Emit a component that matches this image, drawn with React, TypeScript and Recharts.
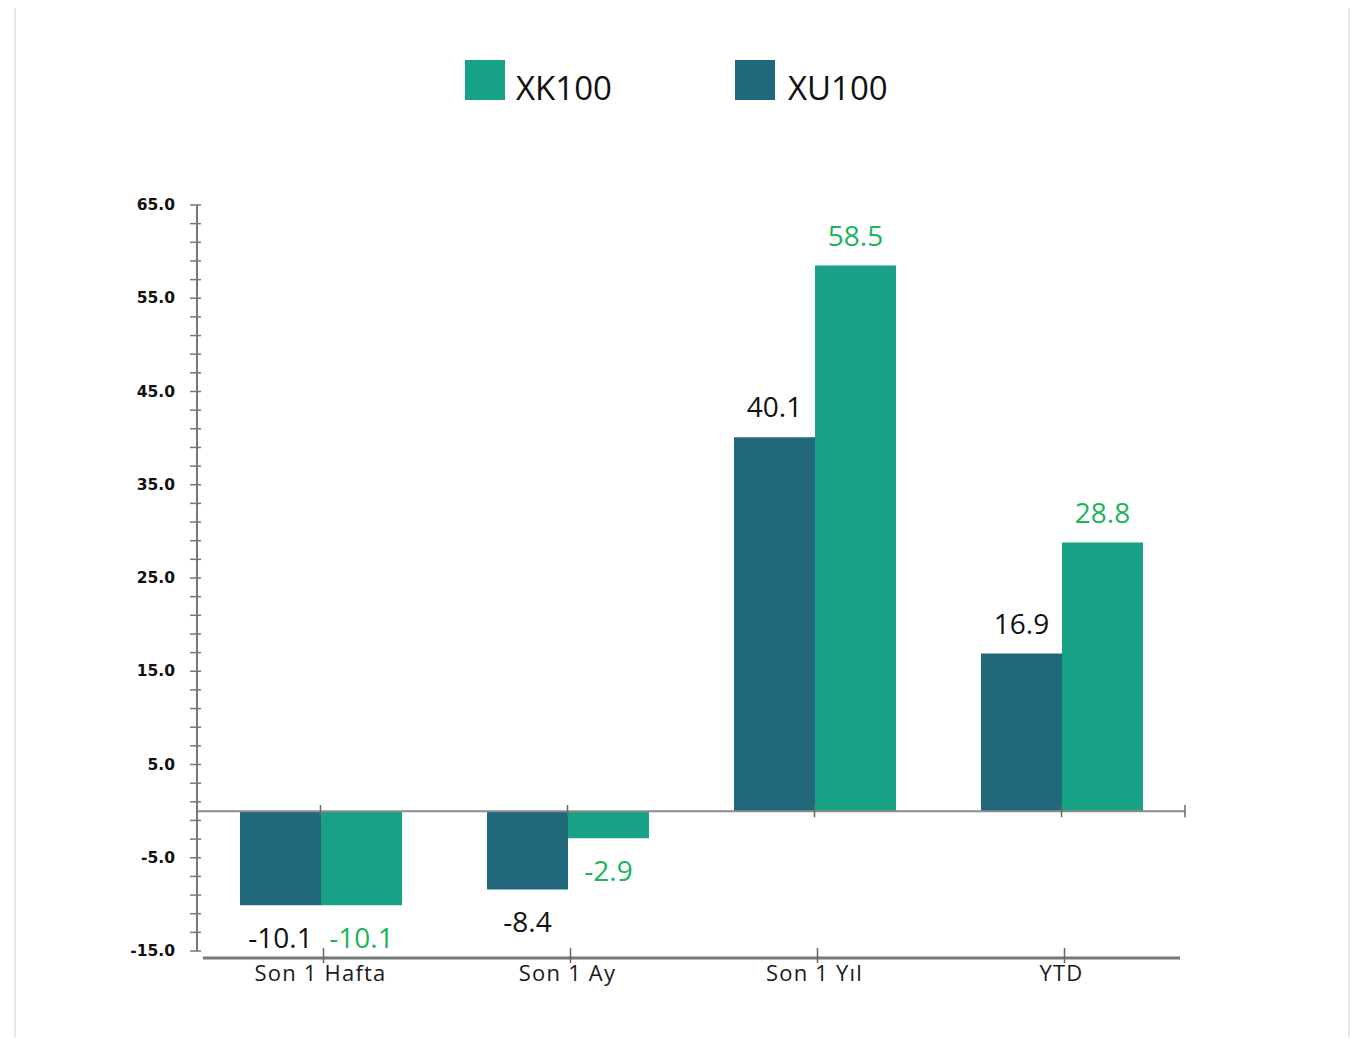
import React from 'react';
import { BarChart, Bar, XAxis, YAxis, ReferenceLine, LabelList } from 'recharts';

const categories = ['Son 1 Hafta', 'Son 1 Ay', 'Son 1 Yıl', 'YTD'];
const xu100Values = [-10.1, -8.4, 40.1, 16.9];
const xk100Values = [-10.1, -2.9, 58.5, 28.8];

// every 2 units a small tick, labels only on the 10-step ones
const yTicks = [
  -15, -13, -11, -9, -7, -5, -3, -1, 1, 3, 5, 7, 9, 11, 13, 15, 17, 19, 21, 23, 25,
  27, 29, 31, 33, 35, 37, 39, 41, 43, 45, 47, 49, 51, 53, 55, 57, 59, 61, 63, 65,
];
const yLabels = [-15, -5, 5, 15, 25, 35, 45, 55, 65];

const data = categories.map((name, i) => ({
  name,
  XU100: xu100Values[i],
  XK100: xk100Values[i],
}));

const XU_COLOR = '#21687D';
const XK_COLOR = '#17A185';
const AXIS_COLOR = '#777';

const YTick = (props: any) => {
  const { x, y, payload } = props;
  const v = payload.value;
  return (
    <g>
      <line x1={x - 7} x2={x + 4} y1={y} y2={y} stroke={AXIS_COLOR} strokeWidth={1.5} />
      {yLabels.includes(v) && (
        <text
          x={x - 22}
          y={y}
          dy={5}
          textAnchor="end"
          fontFamily="DejaVu Sans"
          fontWeight="bold"
          fontSize={15.5}
          fill="#111"
        >
          {v.toFixed(1)}
        </text>
      )}
    </g>
  );
};

const XTick = (props: any) => {
  const { x, y, payload, index } = props;
  const half = 123.5;
  const x1 = index === 0 ? x - half + 6 : x - half;
  const x2 = index === categories.length - 1 ? x + half - 5 : x + half;
  return (
    <g>
      <line x1={x1} x2={x2} y1={y + 7} y2={y + 7} stroke={AXIS_COLOR} strokeWidth={3} />
      <line x1={x + 3} x2={x + 3} y1={y - 3} y2={y + 12} stroke="#666" strokeWidth={1.5} />
      <text
        x={x}
        y={y + 30}
        textAnchor="middle"
        fontFamily="Open Sans"
        fontSize={22}
        letterSpacing={1.2}
        fill="#1a1a1a"
      >
        {payload.value}
      </text>
    </g>
  );
};

const makeLabel = (color: string) => (props: any) => {
  const vb = props.x !== undefined ? props : props.viewBox;
  const { x, y, width, height } = vb;
  const value = Number(props.value);
  const top = Math.min(y, y + height);
  const bottom = Math.max(y, y + height);
  const ty = value >= 0 ? top - 20 : bottom + 43;
  return (
    <text
      x={x + width / 2}
      y={ty}
      textAnchor="middle"
      fontFamily="Open Sans"
      fontSize={28}
      fill={color}
    >
      {value.toFixed(1)}
    </text>
  );
};

const ChartLegend = () => (
  <svg
    width={1371}
    height={140}
    style={{ position: 'absolute', left: 0, top: 0, pointerEvents: 'none' }}
  >
    <rect x={465} y={60} width={40} height={40} fill={XK_COLOR} />
    <text x={516} y={100} fontFamily="Open Sans" fontSize={33} fill="#111">
      XK100
    </text>
    <rect x={735} y={60} width={40} height={40} fill={XU_COLOR} />
    <text x={788} y={100} fontFamily="Open Sans" fontSize={33} fill="#111">
      XU100
    </text>
  </svg>
);

export default function App() {
  return (
    <div
      style={{
        position: 'relative',
        width: 1371,
        height: 1045,
        margin: -8,
        background: '#fff',
      }}
    >
      <div
        style={{
          position: 'absolute',
          left: 0,
          top: 0,
          width: 2,
          height: 1045,
          background: '#ececec',
        }}
      />
      <div
        style={{
          position: 'absolute',
          left: 14,
          top: 2,
          width: 1336,
          height: 1042,
          border: '2px solid #e6e6e6',
          boxSizing: 'border-box',
        }}
      />
      <div style={{ position: 'absolute', left: 0, top: 0 }}>
        <BarChart
          width={1371}
          height={1045}
          data={data}
          margin={{ top: 205, right: 186, bottom: 64, left: 137 }}
          barSize={81}
          barGap={0}
        >
          <XAxis
            dataKey="name"
            axisLine={false}
            tickLine={false}
            tickSize={0}
            tickMargin={0}
            interval={0}
            tick={<XTick />}
          />
          <YAxis
            width={60}
            domain={[-15, 65]}
            ticks={yTicks}
            interval={0}
            axisLine={{ stroke: AXIS_COLOR, strokeWidth: 2 }}
            tickLine={false}
            tickSize={0}
            tickMargin={0}
            tick={<YTick />}
          />
          <ReferenceLine y={0} stroke="#8c8c8c" strokeWidth={2} />
          {categories.map((c) => (
            <ReferenceLine
              key={c}
              segment={[
                { x: c, y: -0.65 },
                { x: c, y: 0.65 },
              ]}
              stroke="#666"
              strokeWidth={1.5}
            />
          ))}
          <ReferenceLine
            segment={[
              { x: 'YTD', y: -0.65 },
              { x: 'YTD', y: 0.65 },
            ]}
            position="end"
            stroke="#666"
            strokeWidth={1.5}
          />
          <Bar dataKey="XU100" fill={XU_COLOR} isAnimationActive={false}>
            <LabelList dataKey="XU100" content={makeLabel('#111')} />
          </Bar>
          <Bar dataKey="XK100" fill={XK_COLOR} isAnimationActive={false}>
            <LabelList dataKey="XK100" content={makeLabel('#1DB35A')} />
          </Bar>
        </BarChart>
      </div>
      <ChartLegend />
    </div>
  );
}
